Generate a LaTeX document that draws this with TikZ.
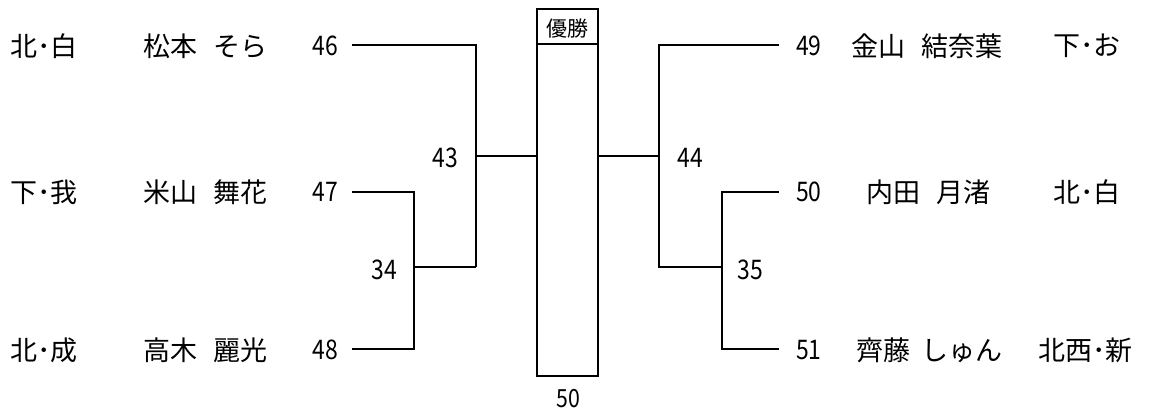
\documentclass[tikz,border=0pt]{standalone}
\usepackage{fontspec}
\setmainfont{Noto Sans CJK JP}
\newfontfamily\numfont[FakeStretch=0.85]{Noto Sans CJK JP}
\begin{document}
\begin{tikzpicture}[x=1pt,y=-1pt,
  txt/.style={inner sep=0pt,font=\fontsize{27}{30}\selectfont},
  num/.style={inner sep=0pt,font=\numfont\fontsize{27}{30}\selectfont},
  ln/.style={line width=2pt}]
\useasboundingbox (0,0) rectangle (1151,414);
% winner box
\node[draw,line width=2pt,minimum width=61pt,minimum height=367pt,inner sep=0pt] (box) at (567.5,192.5) {};
\coordinate (hl) at (537,44);
\coordinate (hr) at (598,44);
\draw[ln] (hl) -- (hr);
\node[inner sep=0pt,font=\fontsize{21}{24}\selectfont] (win) at (567.5,29) {優勝};
\node[num,font=\numfont\fontsize{25}{28}\selectfont] (n50b) at (568,399) {50};
% left side texts
\node[txt,anchor=west] (s1) at (10,46) {北･白};
\node[txt,anchor=west] (p1) at (143,46) {松本\hspace{16pt}そら};
\node[num,anchor=east] (n46) at (338,46) {46};
\node[txt,anchor=west] (s2) at (10,192) {下･我};
\node[txt,anchor=west] (p2) at (143,192) {米山\hspace{16pt}舞花};
\node[num,anchor=east] (n47) at (338,192) {47};
\node[txt,anchor=west] (s3) at (10,350) {北･成};
\node[txt,anchor=west] (p3) at (143,350) {高木\hspace{16pt}麗光};
\node[num,anchor=east] (n48) at (338,350) {48};
\node[num] (n43) at (445,158) {43};
\node[num] (n34) at (384,270) {34};
% right side texts
\node[num,anchor=west] (n49) at (796,46) {49};
\node[txt,anchor=west] (p4) at (851,46) {金山\hspace{16pt}結奈葉};
\node[txt,anchor=west] (s4) at (1053,46) {下･お};
\node[num,anchor=west] (n50) at (796,192) {50};
\node[txt,anchor=west] (p5) at (866,192) {内田\hspace{16pt}月渚};
\node[txt,anchor=west] (s5) at (1053,192) {北･白};
\node[num,anchor=west] (n51) at (796,350) {51};
\node[txt,anchor=west] (p6) at (856,350) {齊藤\hspace{11pt}しゅん};
\node[txt,anchor=west] (s6) at (1038,350) {北西･新};
\node[num] (n44) at (690,158) {44};
\node[num] (n35) at (750,270) {35};
% bracket coordinates
\coordinate (a1) at (352,45);
\coordinate (a2) at (352,192);
\coordinate (a3) at (352,349);
\coordinate (b1) at (476,45);
\coordinate (b2) at (414,192);
\coordinate (b3) at (414,349);
\coordinate (j34) at (414,267);
\coordinate (c34) at (476,267);
\coordinate (j43) at (476,156);
\coordinate (j44) at (659,156);
\coordinate (d1) at (659,45);
\coordinate (e1) at (779,45);
\coordinate (c35) at (659,267);
\coordinate (j35) at (722,267);
\coordinate (d2) at (722,192);
\coordinate (d3) at (722,349);
\coordinate (e2) at (779,192);
\coordinate (e3) at (779,349);
% left bracket
\draw[ln] (a1) -- (b1) -- (c34);
\draw[ln] (a2) -- (b2) -- (b3) -- (a3);
\draw[ln] (j34) -- (c34);
\draw[ln] (j43) -- (j43 -| box.west);
% right bracket
\draw[ln] (j44 -| box.east) -- (j44);
\draw[ln] (e1) -- (d1) -- (c35) -- (j35);
\draw[ln] (e2) -- (d2) -- (d3) -- (e3);
\end{tikzpicture}
\end{document}
